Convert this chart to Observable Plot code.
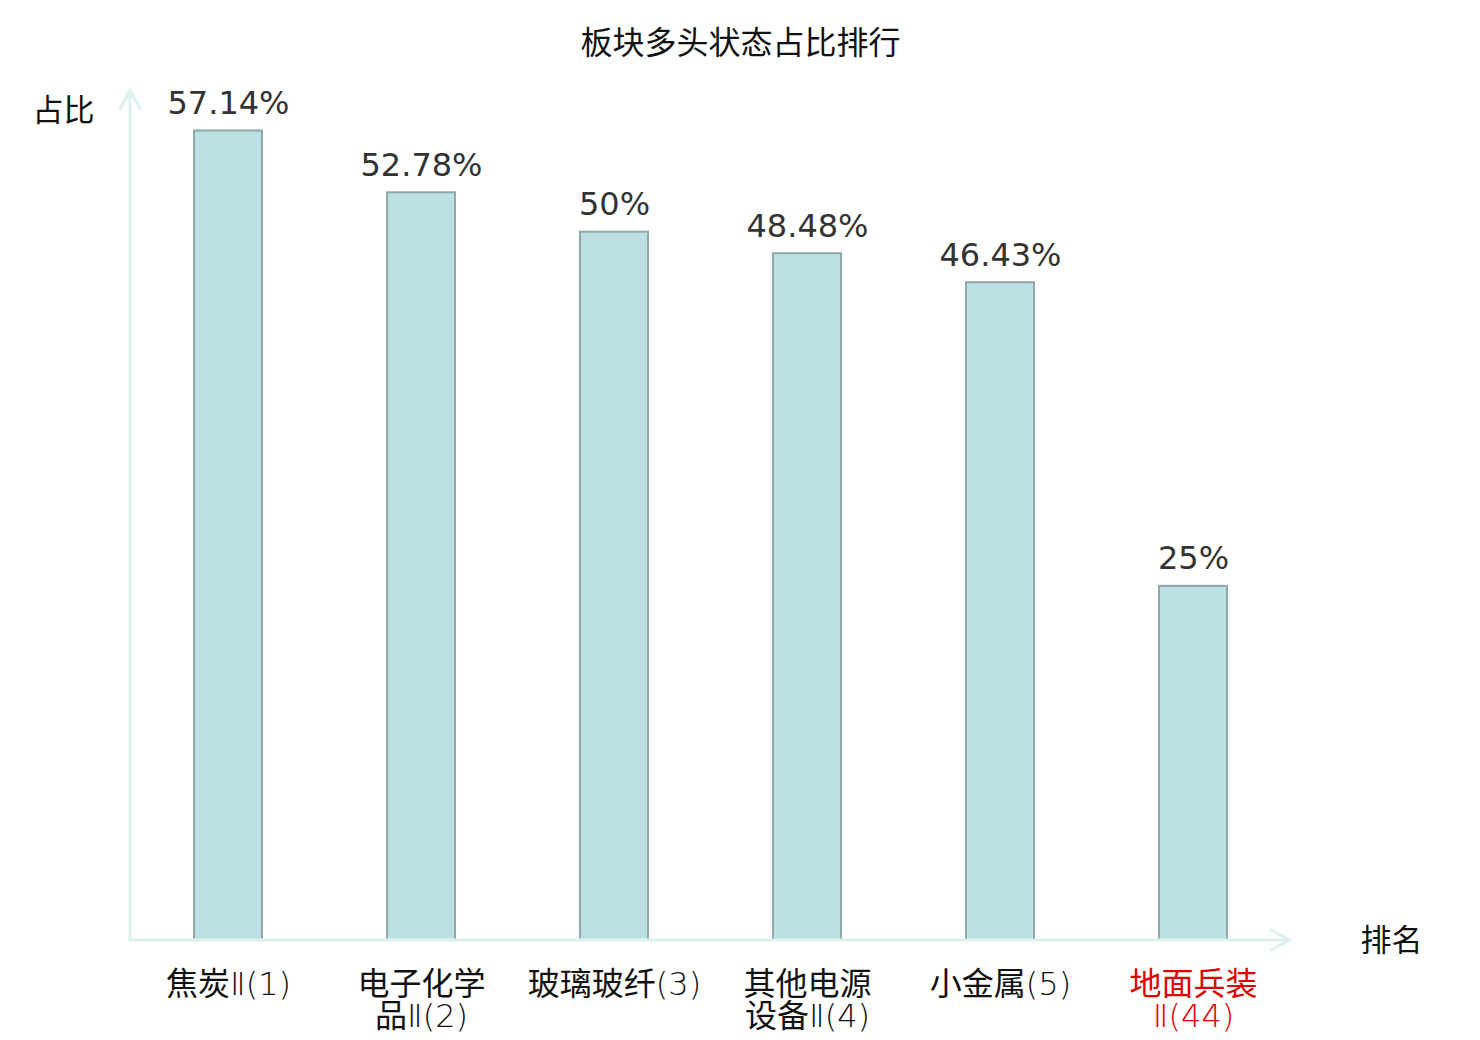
<!DOCTYPE html>
<html>
<head>
<meta charset="utf-8">
<script src="https://cdn.jsdelivr.net/npm/d3@7"></script>
<script src="https://cdn.jsdelivr.net/npm/@observablehq/plot@0.6"></script>
<style>
  html, body { margin: 0; padding: 0; background: #fff; }
  #chart { width: 1480px; height: 1040px; }
</style>
</head>
<body>
<div id="chart"></div>
<script>
const categories = ["焦炭Ⅱ(1)", "电子化学品Ⅱ(2)", "玻璃玻纤(3)", "其他电源设备Ⅱ(4)", "小金属(5)", "地面兵装Ⅱ(44)"];
const tickLabels = ["焦炭Ⅱ(1)", "电子化学\n品Ⅱ(2)", "玻璃玻纤(3)", "其他电源\n设备Ⅱ(4)", "小金属(5)", "地面兵装\nⅡ(44)"];
const values = [57.14, 52.78, 50, 48.48, 46.43, 25];
const valueLabels = ["57.14%", "52.78%", "50%", "48.48%", "46.43%", "25%"];
const highlighted = [false, false, false, false, false, true];

const data = categories.map((c, i) => ({
  cat: c, value: values[i], label: valueLabels[i], tick: tickLabels[i], hl: highlighted[i]
}));

const axisColor = "#ddf1ee";
const tickFont = "'DejaVu Sans', 'Noto Sans CJK SC', sans-serif";

// axes with arrowheads drawn at the frame edges
function axesMark(index, scales, values, dims) {
  const g = d3.create("svg:g");
  const x0 = dims.marginLeft, x1 = dims.width - dims.marginRight;
  const y0 = dims.height - dims.marginBottom, y1 = dims.marginTop;
  const st = (s) => s.attr("stroke", axisColor).attr("stroke-width", 3).attr("fill", "none")
    .attr("stroke-linecap", "round").attr("stroke-linejoin", "round");
  st(g.append("path").attr("d", `M${x0},${y0}L${x0},${y1}M${x0 - 10},${y1 + 19}L${x0},${y1}L${x0 + 10},${y1 + 19}`));
  st(g.append("path").attr("d", `M${x0},${y0}L${x1},${y0}M${x1 - 19},${y0 - 10}L${x1},${y0}L${x1 - 19},${y0 + 10}`));
  return g.node();
}

// CJK runs in regular weight, latin/digits light
function splitRuns(el) {
  const s = el.textContent;
  while (el.firstChild) el.removeChild(el.firstChild);
  const re = /([\u3400-\u9fff]+)|([^\u3400-\u9fff]+)/g;
  let m;
  while ((m = re.exec(s))) {
    const t = document.createElementNS("http://www.w3.org/2000/svg", "tspan");
    t.textContent = m[0];
    if (m[1]) t.setAttribute("font-weight", "400");
    el.appendChild(t);
  }
}
function tickRender(index, scales, values, dims, context, next) {
  const g = next(index, scales, values, dims, context);
  g.querySelectorAll("text").forEach(text => {
    const spans = text.querySelectorAll("tspan");
    if (spans.length) spans.forEach(splitRuns); else splitRuns(text);
  });
  return g;
}

const plot = Plot.plot({
  width: 1480,
  height: 1040,
  marginLeft: 130,
  marginRight: 190,
  marginTop: 90,
  marginBottom: 100,
  style: { fontFamily: "'DejaVu Sans', 'Noto Sans CJK SC', sans-serif", background: "#fff" },
  x: { type: "band", domain: categories, paddingInner: 0.648, paddingOuter: 0.324, align: 0.5, axis: null },
  y: { domain: [0, 60], axis: null },
  marks: [
    Plot.barY(data, { x: "cat", y: "value", fill: "#bce0e3", stroke: "#8fa8a9", strokeWidth: 2 }),
    axesMark,
    Plot.text(data, { x: "cat", y: "value", text: "label", lineAnchor: "bottom", dy: -17,
      fontSize: 32, fill: "#333", fontFamily: "'DejaVu Sans', sans-serif" }),
    Plot.text(data, { x: "cat", y: 0, text: "tick", lineAnchor: "top", dy: 32, lineHeight: 1,
      fontSize: 32, fontWeight: 200, fill: d => d.hl ? "#e00000" : "#111", fontFamily: tickFont,
      render: tickRender }),
    Plot.text(["板块多头状态占比排行"], { frameAnchor: "top", dx: 30, dy: -59, fontSize: 32, fill: "#111",
      fontFamily: "'Noto Sans CJK SC', sans-serif" }),
    Plot.text(["占比"], { frameAnchor: "top-left", dx: -98, dy: 8, fontSize: 31, fill: "#111",
      fontFamily: "'Noto Sans CJK SC', sans-serif" }),
    Plot.text(["排名"], { frameAnchor: "bottom-right", dx: 132, dy: 10, fontSize: 31, fill: "#111",
      fontFamily: "'Noto Sans CJK SC', sans-serif" })
  ]
});
document.getElementById("chart").appendChild(plot);
</script>
</body>
</html>
